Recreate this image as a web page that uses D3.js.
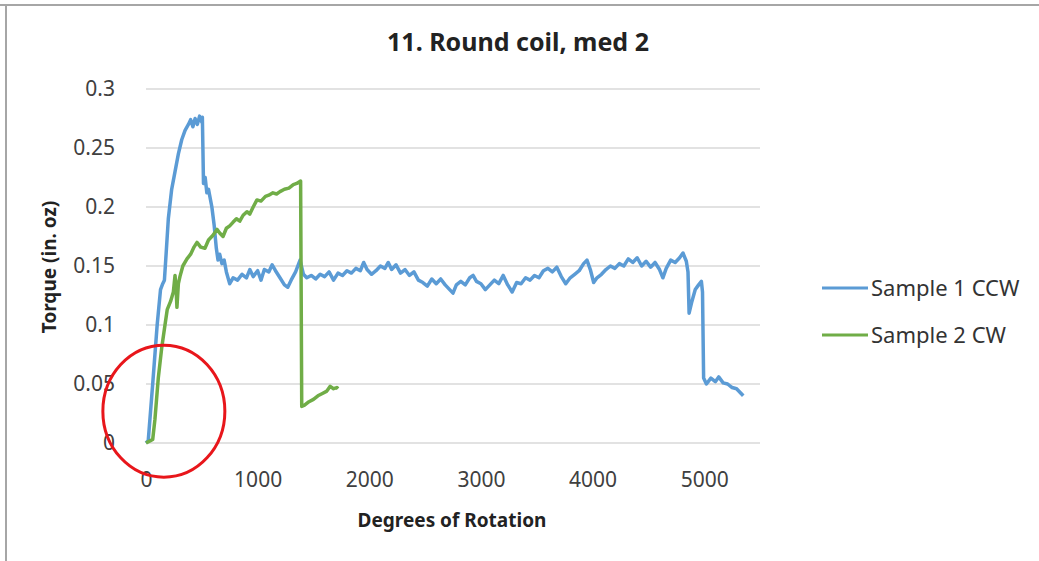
<!DOCTYPE html>
<html>
<head>
<meta charset="utf-8">
<script src="https://cdn.jsdelivr.net/npm/d3@7"></script>
<style>
  body { margin: 0; background: #fff; }
  svg { display: block; font-family: "Noto Sans", "Open Sans", sans-serif; }
  .tick text { fill: #404040; }
</style>
</head>
<body>
<div id="chart"></div>
<script>
const chartTitle = "11. Round coil, med 2";
const xTitle = "Degrees of Rotation";
const yTitle = "Torque (in. oz)";
const seriesNames = ["Sample 1 CCW", "Sample 2 CW"];
const seriesColors = ["#5b9bd5", "#70ad47"];
const xTicks = [0, 1000, 2000, 3000, 4000, 5000];
const yTicks = [0, 0.05, 0.1, 0.15, 0.2, 0.25, 0.3];

// [degrees, torque]
const sample1 = [
  [0,0],[20,0.002],[60,0.05],[100,0.1],[130,0.13],[150,0.135],[165,0.138],[180,0.16],[200,0.19],
  [230,0.215],[260,0.23],[290,0.245],[320,0.257],[350,0.265],[380,0.27],[400,0.274],[420,0.268],
  [440,0.275],[460,0.27],[480,0.277],[500,0.272],[505,0.276],[515,0.22],[530,0.225],[545,0.212],
  [560,0.215],[590,0.2],[610,0.185],[630,0.165],[645,0.155],[660,0.16],[680,0.152],[700,0.155],
  [720,0.145],[750,0.135],[780,0.14],[820,0.138],[860,0.143],[900,0.14],[930,0.147],[960,0.141],
  [1000,0.146],[1030,0.138],[1060,0.147],[1100,0.145],[1130,0.151],[1160,0.146],[1200,0.14],
  [1240,0.134],[1270,0.132],[1300,0.138],[1340,0.145],[1380,0.155],[1410,0.143],[1440,0.14],
  [1480,0.142],[1520,0.139],[1560,0.143],[1600,0.141],[1640,0.145],[1680,0.138],[1720,0.144],
  [1760,0.142],[1800,0.146],[1840,0.144],[1880,0.148],[1920,0.146],[1950,0.153],[1980,0.147],
  [2020,0.143],[2060,0.146],[2100,0.15],[2140,0.148],[2170,0.153],[2200,0.147],[2240,0.151],
  [2280,0.144],[2320,0.147],[2360,0.142],[2400,0.145],[2440,0.138],[2480,0.136],[2520,0.133],
  [2560,0.139],[2600,0.135],[2640,0.139],[2680,0.134],[2720,0.13],[2750,0.127],[2780,0.134],
  [2820,0.137],[2860,0.134],[2900,0.14],[2930,0.142],[2960,0.137],[3000,0.135],[3040,0.13],
  [3080,0.134],[3120,0.138],[3160,0.135],[3200,0.142],[3240,0.134],[3280,0.128],[3320,0.136],
  [3360,0.135],[3400,0.14],[3440,0.138],[3480,0.142],[3520,0.14],[3560,0.146],[3600,0.148],
  [3640,0.145],[3680,0.149],[3720,0.141],[3760,0.135],[3800,0.14],[3840,0.143],[3880,0.146],
  [3920,0.152],[3950,0.155],[3980,0.147],[4010,0.136],[4040,0.14],[4080,0.143],[4120,0.147],
  [4160,0.15],[4200,0.148],[4240,0.152],[4280,0.15],[4320,0.156],[4360,0.153],[4400,0.157],
  [4440,0.15],[4480,0.154],[4520,0.149],[4560,0.153],[4600,0.147],[4630,0.14],[4660,0.148],
  [4700,0.155],[4740,0.153],[4780,0.157],[4810,0.161],[4840,0.154],[4855,0.145],[4865,0.11],
  [4890,0.12],[4920,0.13],[4950,0.134],[4975,0.137],[4985,0.128],[4995,0.055],[5020,0.05],
  [5060,0.055],[5100,0.052],[5130,0.056],[5170,0.051],[5210,0.05],[5250,0.047],[5290,0.046],
  [5320,0.043],[5350,0.04]
];
const sample2 = [
  [0,0],[40,0.002],[60,0.003],[80,0.02],[110,0.055],[140,0.08],[170,0.1],[190,0.113],[220,0.12],
  [245,0.128],[260,0.142],[270,0.13],[277,0.115],[290,0.135],[304,0.141],[330,0.15],[367,0.156],
  [400,0.16],[430,0.166],[457,0.17],[490,0.166],[528,0.165],[560,0.172],[600,0.176],[636,0.181],
  [660,0.178],[690,0.175],[720,0.182],[750,0.184],[779,0.187],[810,0.19],[840,0.188],[870,0.193],
  [904,0.196],[930,0.194],[960,0.2],[994,0.206],[1030,0.205],[1070,0.209],[1100,0.21],[1137,0.212],
  [1170,0.211],[1200,0.213],[1240,0.215],[1280,0.216],[1320,0.219],[1350,0.22],[1385,0.222],
  [1395,0.031],[1420,0.032],[1460,0.035],[1500,0.037],[1540,0.04],[1580,0.042],[1620,0.044],
  [1650,0.048],[1680,0.046],[1710,0.047],[1720,0.046]
];

const width = 1039, height = 561;
const margin = {left: 146, right: 279, top: 89, bottom: 118};

const svg = d3.select("#chart").append("svg")
  .attr("width", width)
  .attr("height", height);

// frame of the screenshot
svg.append("line").attr("x1", 0).attr("x2", width).attr("y1", 5).attr("y2", 5)
  .attr("stroke", "#a6a6a6").attr("stroke-width", 2);
svg.append("line").attr("x1", 6).attr("x2", 6).attr("y1", 5).attr("y2", height)
  .attr("stroke", "#a6a6a6").attr("stroke-width", 2);

const x = d3.scaleLinear().domain([0, 5500]).range([margin.left, width - margin.right]);
const y = d3.scaleLinear().domain([0, 0.3]).range([height - margin.bottom, margin.top]);

// gridlines
svg.append("g")
  .selectAll("line")
  .data(yTicks)
  .join("line")
  .attr("x1", x(0)).attr("x2", x(5500))
  .attr("y1", d => y(d)).attr("y2", d => y(d))
  .attr("stroke", "#d9d9d9").attr("stroke-width", 1.5);

const yAxis = svg.append("g")
  .attr("transform", `translate(${x(0) - 28},0)`)
  .call(d3.axisLeft(y).tickValues(yTicks).tickSize(0).tickFormat(d => d3.format("")(+d.toFixed(2))));
yAxis.select(".domain").remove();
yAxis.selectAll("text").attr("font-size", 21).attr("font-family", "Noto Sans");

const xAxis = svg.append("g")
  .attr("transform", `translate(0,${y(0)})`)
  .call(d3.axisBottom(x).tickValues(xTicks).tickSize(0).tickFormat(d3.format("d")));
xAxis.select(".domain").remove();
xAxis.selectAll("text").attr("font-size", 21).attr("font-family", "Noto Sans").attr("dy", "1.95em");

const line = d3.line().x(d => x(d[0])).y(d => y(d[1]));

[sample1, sample2].forEach((s, i) => {
  svg.append("path")
    .datum(s)
    .attr("fill", "none")
    .attr("stroke", seriesColors[i])
    .attr("stroke-width", 3.5)
    .attr("stroke-linejoin", "round")
    .attr("d", line);
});

// titles
svg.append("text")
  .attr("x", 518).attr("y", 51)
  .attr("text-anchor", "middle")
  .attr("font-size", 25).attr("font-weight", "bold").attr("fill", "#222")
  .text(chartTitle);

svg.append("text")
  .attr("x", 452).attr("y", 527)
  .attr("text-anchor", "middle")
  .attr("font-size", 19).attr("font-weight", "bold").attr("fill", "#222")
  .text(xTitle);

svg.append("text")
  .attr("transform", `translate(56,267) rotate(-90)`)
  .attr("text-anchor", "middle")
  .attr("font-size", 19).attr("font-weight", "bold").attr("fill", "#222")
  .text(yTitle);

// legend
const legend = svg.append("g")
  .selectAll("g")
  .data(seriesNames)
  .join("g")
  .attr("transform", (_d, i) => `translate(822,${288 + i * 47})`);
legend.append("line")
  .attr("x1", 0).attr("x2", 46)
  .attr("stroke", (_d, i) => seriesColors[i])
  .attr("stroke-width", 3);
legend.append("text")
  .attr("x", 49).attr("y", 0).attr("dy", "0.35em")
  .attr("font-size", 22).attr("fill", "#333")
  .text(d => d);

// red annotation circle
svg.append("ellipse")
  .attr("cx", x(160)).attr("cy", y(0.027))
  .attr("rx", 61).attr("ry", 66)
  .attr("fill", "none")
  .attr("stroke", "#e8161b")
  .attr("stroke-width", 3);
</script>
</body>
</html>
